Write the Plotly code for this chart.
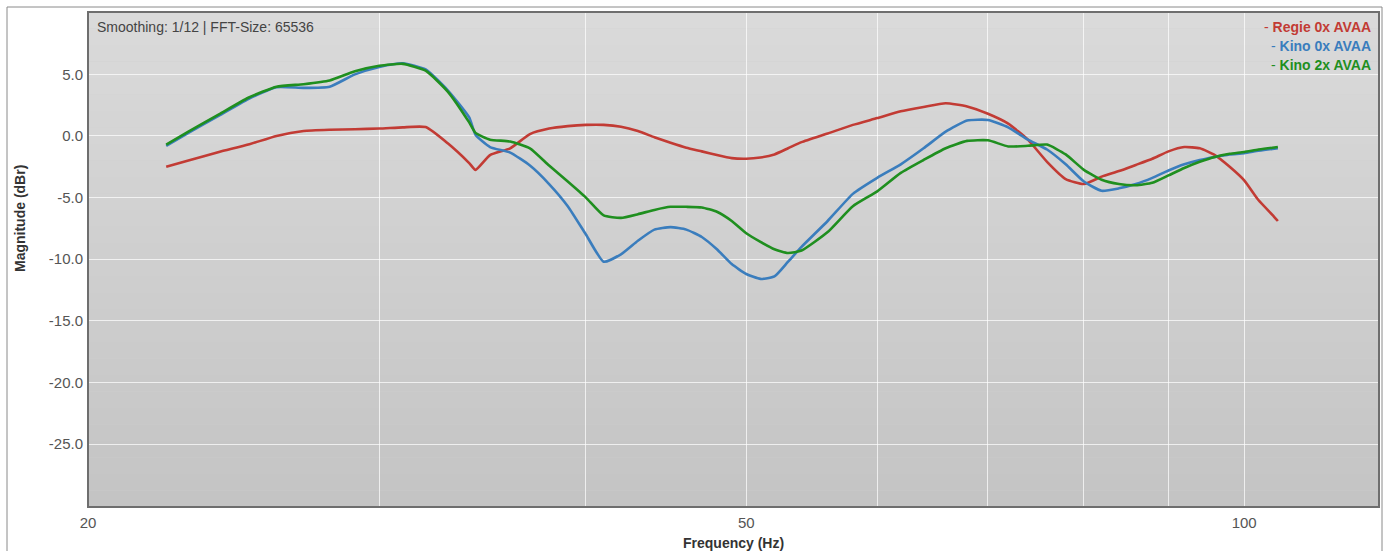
import plotly.graph_objects as go

# ---------------- data ----------------
freq_hz = [22.3, 23, 24, 25, 26, 27, 28, 29, 30,
           31, 32, 33, 34, 34.3, 35, 36, 37, 38, 39, 40,
           41, 42, 43, 44, 45, 46, 47, 48, 49, 50, 51, 52, 53, 54,
           56, 58, 60, 62, 64, 66, 68, 70, 72, 74, 76, 78, 80, 82, 84, 86,
           88, 90, 92, 94, 96, 98, 100, 102, 104, 104.8]

regie_0x = [-2.5, -2.0, -1.3, -0.7, 0.0, 0.4, 0.5, 0.55, 0.6,
            0.7, 0.72, -0.6, -2.2, -2.75, -1.55, -1.0, 0.15, 0.6, 0.8, 0.9,
            0.9, 0.75, 0.4, -0.1, -0.55, -0.95, -1.25, -1.55, -1.8, -1.85, -1.75, -1.5, -1.0, -0.5,
            0.2, 0.9, 1.45, 2.0, 2.35, 2.65, 2.4, 1.8, 1.0, -0.3, -2.1, -3.5, -3.9, -3.3, -2.85, -2.35,
            -1.85, -1.25, -0.9, -1.0, -1.55, -2.5, -3.6, -5.2, -6.4, -6.9]

kino_0x = [-0.8, 0.25, 1.65, 3.0, 3.95, 3.9, 4.0, 5.0, 5.6,
           5.9, 5.4, 3.7, 1.5, 0.1, -0.9, -1.35, -2.4, -3.9, -5.7, -8.0,
           -10.2, -9.6, -8.5, -7.6, -7.4, -7.6, -8.2, -9.2, -10.4, -11.2, -11.6, -11.4, -10.2, -9.0,
           -6.9, -4.7, -3.4, -2.3, -1.0, 0.35, 1.25, 1.3, 0.7, -0.3, -1.1, -2.3, -3.7, -4.45, -4.25, -3.9,
           -3.4, -2.8, -2.3, -1.95, -1.7, -1.5, -1.4, -1.2, -1.05, -1.0]

kino_2x = [-0.7, 0.35, 1.75, 3.1, 4.0, 4.2, 4.5, 5.25, 5.7,
           5.85, 5.3, 3.6, 1.1, 0.25, -0.3, -0.45, -1.0, -2.4, -3.7, -5.0,
           -6.45, -6.65, -6.35, -6.0, -5.75, -5.75, -5.8, -6.15, -6.9, -7.9, -8.6, -9.2, -9.5, -9.3,
           -7.8, -5.7, -4.5, -3.0, -1.95, -1.0, -0.4, -0.35, -0.85, -0.8, -0.7, -1.5, -2.75, -3.55, -3.9, -4.0,
           -3.8, -3.2, -2.6, -2.1, -1.7, -1.45, -1.3, -1.1, -0.95, -0.9]

series_names = ["Regie 0x AVAA", "Kino 0x AVAA", "Kino 2x AVAA"]
series_colors = ["#c23b34", "#3a7dbd", "#1f8f1f"]

y_tick_vals = [-25, -20, -15, -10, -5, 0, 5]
y_tick_text = ["-25.0", "-20.0", "-15.0", "-10.0", "-5.0", "0.0", "5.0"]
x_tick_vals = [20, 30, 40, 50, 60, 70, 80, 90, 100]
x_tick_text = ["20", "", "", "50", "", "", "", "", "100"]

info_text = "Smoothing: 1/12 | FFT-Size: 65536"
x_title = "Frequency (Hz)"
y_title = "Magnitude (dBr)"

# ---------------- figure ----------------
FONT = "Liberation Sans, Arial, sans-serif"
W, H = 1389, 551
ML, MR, MT, MB = 88, 10, 12, 44
PW, PH = W - ML - MR, H - MT - MB


def px_x(px):
    return (px - ML) / PW


def px_y(py):
    return (H - MB - py) / PH


fig = go.Figure()
for name, vals, col in zip(series_names, [regie_0x, kino_0x, kino_2x], series_colors):
    fig.add_trace(go.Scatter(
        x=freq_hz, y=vals, mode="lines", name=name,
        line=dict(color=col, width=2.6, shape="spline", smoothing=0.5),
        showlegend=False, hoverinfo="x+y+name",
    ))

shapes = []
# gradient-like plot background
n_bands = 30
top_c, bot_c = 218, 196
for i in range(n_bands):
    t = i / (n_bands - 1)
    c = round(bot_c + (top_c - bot_c) * t)
    shapes.append(dict(type="rect", xref="paper", yref="paper",
                       x0=0, x1=1, y0=i / n_bands, y1=(i + 1) / n_bands,
                       line=dict(width=0), fillcolor=f"rgb({c},{c},{c})", layer="below"))
# plot border
shapes.append(dict(type="rect", xref="paper", yref="paper", x0=0, x1=1, y0=0, y1=1,
                   line=dict(color="#6e6e6e", width=2), layer="above"))
# outer frame
shapes.append(dict(type="rect", xref="paper", yref="paper",
                   x0=px_x(7), x1=px_x(1382), y0=px_y(600), y1=px_y(7),
                   line=dict(color="#8a8a8a", width=1), layer="above"))

annotations = [
    dict(text=info_text, xref="paper", yref="paper", x=px_x(95), y=px_y(27),
         xanchor="left", yanchor="middle", showarrow=False,
         font=dict(family=FONT, size=14, color="#444444")),
    dict(text=f"<b>{x_title}</b>", xref="paper", yref="paper", x=0.5, y=px_y(543),
         xanchor="center", yanchor="middle", showarrow=False,
         font=dict(family=FONT, size=14, color="#333333")),
    dict(text=f"<b>{y_title}</b>", xref="paper", yref="paper", x=px_x(20), y=px_y(219),
         xanchor="center", yanchor="middle", textangle=-90, showarrow=False,
         font=dict(family=FONT, size=14, color="#333333")),
]
for i, (name, col) in enumerate(zip(series_names, series_colors)):
    annotations.append(dict(
        text=f"- <b>{name}</b>", xref="paper", yref="paper", x=px_x(1373), y=px_y(27 + 19 * i),
        xanchor="right", yanchor="middle", showarrow=False,
        font=dict(family=FONT, size=14, color=col)))

fig.update_layout(
    width=W, height=H, autosize=False,
    margin=dict(l=ML, r=MR, t=MT, b=MB, pad=0),
    paper_bgcolor="white", plot_bgcolor="#cfcfcf",
    font=dict(family=FONT, size=15, color="#555555"),
    shapes=shapes, annotations=annotations,
    xaxis=dict(type="log", range=[1.30103, 2.0815],
               tickvals=x_tick_vals, ticktext=x_tick_text,
               showgrid=True, gridcolor="rgba(255,255,255,0.7)", gridwidth=1,
               zeroline=False, showline=False, ticks="outside", ticklen=2,
               tickcolor="rgba(0,0,0,0)",
               tickfont=dict(family=FONT, size=15, color="#555555")),
    yaxis=dict(range=[-30.11, 10.06], tickvals=y_tick_vals, ticktext=y_tick_text,
               showgrid=True, gridcolor="rgba(255,255,255,0.7)", gridwidth=1,
               zeroline=False, showline=False, ticks="outside", ticklen=1,
               tickcolor="rgba(0,0,0,0)",
               tickfont=dict(family=FONT, size=15, color="#555555")),
)

fig.write_html("out.html", config={"displayModeBar": False},
               post_script="document.body.style.margin='0';")
